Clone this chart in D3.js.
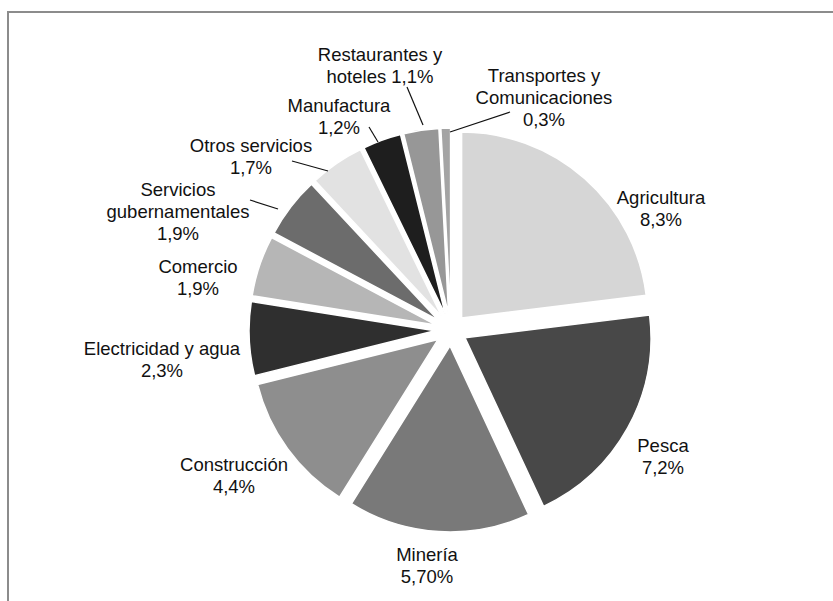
<!DOCTYPE html>
<html>
<head>
<meta charset="utf-8">
<script src="https://cdn.jsdelivr.net/npm/d3@7/dist/d3.min.js"></script>
<style>
  html, body { margin: 0; padding: 0; background: #ffffff; }
  svg { display: block; }
  text { font-family: "Liberation Sans", Arial, Helvetica, sans-serif; font-size: 18.5px; fill: #111111; }
</style>
</head>
<body>
<div id="chart"></div>
<script>
// Sector shares of GDP growth contribution
const categories = [
  "Agricultura", "Pesca", "Minería", "Construcción", "Electricidad y agua",
  "Comercio", "Servicios gubernamentales", "Otros servicios", "Manufactura",
  "Restaurantes y hoteles", "Transportes y Comunicaciones"
];
const values = [8.3, 7.2, 5.70, 4.4, 2.3, 1.9, 1.9, 1.7, 1.2, 1.1, 0.3];
const valueLabels = ["8,3%", "7,2%", "5,70%", "4,4%", "2,3%", "1,9%", "1,9%", "1,7%", "1,2%", "1,1%", "0,3%"];
const labelLines = [
  ["Agricultura", "8,3%"],
  ["Pesca", "7,2%"],
  ["Minería", "5,70%"],
  ["Construcción", "4,4%"],
  ["Electricidad y agua", "2,3%"],
  ["Comercio", "1,9%"],
  ["Servicios", "gubernamentales", "1,9%"],
  ["Otros servicios", "1,7%"],
  ["Manufactura", "1,2%"],
  ["Restaurantes y", "hoteles 1,1%"],
  ["Transportes y", "Comunicaciones", "0,3%"]
];
const colors = ["#d6d6d6", "#484848", "#797979", "#8e8e8e", "#2f2f2f",
                "#b6b6b6", "#6c6c6c", "#e2e2e2", "#1e1e1e", "#979797", "#a4a4a4"];

const W = 833, H = 601;
const cx = 451, cy = 330, R = 186, explode = 16;
const lineH = 22;

// label anchor (centre x, centre y of first line) for each slice
const labelPos = [
  [661, 197], [663, 445], [427, 554], [234, 464], [162, 348],
  [198, 266], [178, 189], [251, 145], [339, 105], [380, 54], [544, 75]
];
// leader lines for the crowded top-left slices: [index, x1, y1, x2, y2]
const leaders = [
  [10, 510, 112, 450, 132],
  [9, 407, 87, 423, 125],
  [8, 369, 127, 378, 142],
  [7, 292, 161, 328, 171],
  [6, 250, 200, 278, 209]
];

const svg = d3.select("#chart").append("svg")
  .attr("width", W).attr("height", H);

// frame
svg.append("line").attr("x1", 7).attr("y1", 12).attr("x2", W).attr("y2", 12)
  .attr("stroke", "#8c8c8c").attr("stroke-width", 2);
svg.append("line").attr("x1", 8).attr("y1", 11).attr("x2", 8).attr("y2", H)
  .attr("stroke", "#8c8c8c").attr("stroke-width", 2);

const pie = d3.pie().sort(null).value(d => d)(values);
const arc = d3.arc().innerRadius(0).outerRadius(R);

const g = svg.append("g").attr("transform", `translate(${cx},${cy})`);
g.selectAll("path.slice").data(pie).join("path")
  .attr("class", "slice")
  .attr("d", arc)
  .attr("fill", (d, i) => colors[i])
  .attr("stroke", "#ffffff")
  .attr("stroke-width", 1.5)
  .attr("transform", d => {
    const mid = (d.startAngle + d.endAngle) / 2;
    return `translate(${Math.sin(mid) * explode},${-Math.cos(mid) * explode})`;
  });

// leader lines
svg.selectAll("line.leader").data(leaders).join("line")
  .attr("class", "leader")
  .attr("x1", d => d[1]).attr("y1", d => d[2])
  .attr("x2", d => d[3]).attr("y2", d => d[4])
  .attr("stroke", "#111111").attr("stroke-width", 1.2);

// labels
const labels = svg.selectAll("text.lbl").data(categories).join("text")
  .attr("class", "lbl")
  .attr("text-anchor", "middle");
labels.each(function(c, i) {
  const [x, y] = labelPos[i];
  const t = d3.select(this);
  labelLines[i].forEach((ln, k) => {
    t.append("tspan").attr("x", x).attr("y", y + 6.5 + k * lineH).text(ln);
  });
});
</script>
</body>
</html>
